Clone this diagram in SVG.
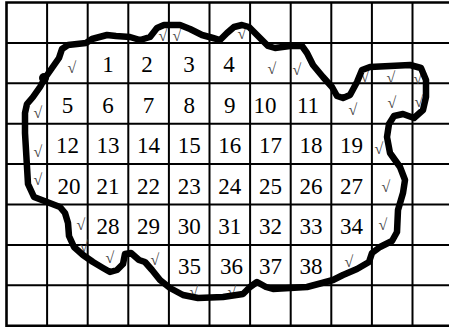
<svg xmlns="http://www.w3.org/2000/svg" width="449" height="328" viewBox="0 0 449 328">
<style>
.g{stroke:#000;stroke-width:2;fill:none}
.b{stroke:#000;stroke-width:2.6;fill:none}
.n{font-family:"Liberation Serif",serif;font-size:23px;fill:#000;text-anchor:middle}
.c{font-family:"Liberation Serif","DejaVu Serif",serif;font-size:16px;fill:#444;text-anchor:middle}
.curve{stroke:#000;stroke-width:6.5;fill:none;stroke-linejoin:round;stroke-linecap:round}
</style>
<rect width="449" height="328" fill="#fff"/>
<g id="grid">
<path class="g" d="M47.1,2.5V325.7M87.7,2.5V325.7M128.3,2.5V325.7M168.9,2.5V325.7M209.5,2.5V325.7M250.1,2.5V325.7M290.7,2.5V325.7M331.3,2.5V325.7M371.9,2.5V325.7M412.5,2.5V325.7M6.5,42.9H449M6.5,83.3H449M6.5,123.7H449M6.5,164.1H449M6.5,204.5H449M6.5,244.9H449M6.5,285.3H449"/>
<path class="b" d="M449,2.5H6.5V325.7H449"/>
</g>
<g id="numbers">
<text class="n" x="108" y="72">1</text>
<text class="n" x="147" y="72">2</text>
<text class="n" x="189" y="72">3</text>
<text class="n" x="229" y="72">4</text>
<text class="n" x="67.4" y="112.5">5</text>
<text class="n" x="108" y="112.5">6</text>
<text class="n" x="148.6" y="112.5">7</text>
<text class="n" x="189.2" y="112.5">8</text>
<text class="n" x="229.8" y="112.5">9</text>
<text class="n" x="265" y="112.5">10</text>
<text class="n" x="308" y="112.5">11</text>
<text class="n" x="67.4" y="153">12</text>
<text class="n" x="108" y="153">13</text>
<text class="n" x="148.6" y="153">14</text>
<text class="n" x="189.2" y="153">15</text>
<text class="n" x="229.8" y="153">16</text>
<text class="n" x="270.4" y="153">17</text>
<text class="n" x="311" y="153">18</text>
<text class="n" x="351.6" y="153">19</text>
<text class="n" x="69" y="193.5">20</text>
<text class="n" x="108" y="193.5">21</text>
<text class="n" x="148.6" y="193.5">22</text>
<text class="n" x="189.2" y="193.5">23</text>
<text class="n" x="229.8" y="193.5">24</text>
<text class="n" x="270.4" y="193.5">25</text>
<text class="n" x="311" y="193.5">26</text>
<text class="n" x="351.6" y="193.5">27</text>
<text class="n" x="108" y="234">28</text>
<text class="n" x="148.6" y="234">29</text>
<text class="n" x="189.2" y="234">30</text>
<text class="n" x="229.8" y="234">31</text>
<text class="n" x="270.4" y="234">32</text>
<text class="n" x="311" y="234">33</text>
<text class="n" x="351.6" y="234">34</text>
<text class="n" x="189.5" y="274">35</text>
<text class="n" x="231.5" y="274">36</text>
<text class="n" x="270.5" y="274">37</text>
<text class="n" x="311" y="274">38</text>
</g>
<g id="checks">
<text class="c" x="163" y="41">√</text>
<text class="c" x="177" y="41">√</text>
<text class="c" x="242" y="39">√</text>
<text class="c" x="72" y="73">√</text>
<text class="c" x="272" y="74">√</text>
<text class="c" x="297" y="75">√</text>
<text class="c" x="365" y="82">√</text>
<text class="c" x="391" y="83">√</text>
<text class="c" x="418" y="84">√</text>
<text class="c" x="38" y="118">√</text>
<text class="c" x="353" y="115">√</text>
<text class="c" x="392" y="108">√</text>
<text class="c" x="419" y="107">√</text>
<text class="c" x="38" y="157">√</text>
<text class="c" x="379" y="154">√</text>
<text class="c" x="38" y="185">√</text>
<text class="c" x="386" y="192">√</text>
<text class="c" x="81" y="230">√</text>
<text class="c" x="383" y="230">√</text>
<text class="c" x="84" y="252">√</text>
<text class="c" x="110" y="263">√</text>
<text class="c" x="155" y="265">√</text>
<text class="c" x="349" y="267">√</text>
<text class="c" x="194" y="297">√</text>
<text class="c" x="232" y="297">√</text>
</g>
<g id="boundary">
<path class="curve" d="M45,78 L52,68 59,58 62,49 68,45 86,43 92,39 107,35 116,36 130,37 140,40 150,37 157,28 164,25 180,25 190,29 202,35 213,38 220,40 227,33 234,27 242,25 249,27 256,34 263,41 268,46 275,48 290,46 302,46 307,53 313,65 323,77 332,87 337,96 343,98 350,95 357,82 362,70 370,67 390,66 410,65 421,68 426,80 426,97 423,110 414,118 403,114 394,116 389,124 387,137 390,153 400,167 405,180 403,193 398,210 397,232 392,241 380,247 372,253 369,262 357,269 343,275 333,280 322,283 307,287 290,288 273,289 266,287 257,282 250,287 243,294 223,297 198,298 183,295 170,288 160,280 152,270 145,262 139,260 131,253 125,254 123,264 117,270 110,272 103,268 93,262 83,255 74,247 69,236 68,223 65,213 60,207 47,202 34,197 28,184 27,167 25,133 25,113 27,104 33,97 40,87 Z"/>
<circle cx="44" cy="78" r="5"/>
</g>
</svg>
